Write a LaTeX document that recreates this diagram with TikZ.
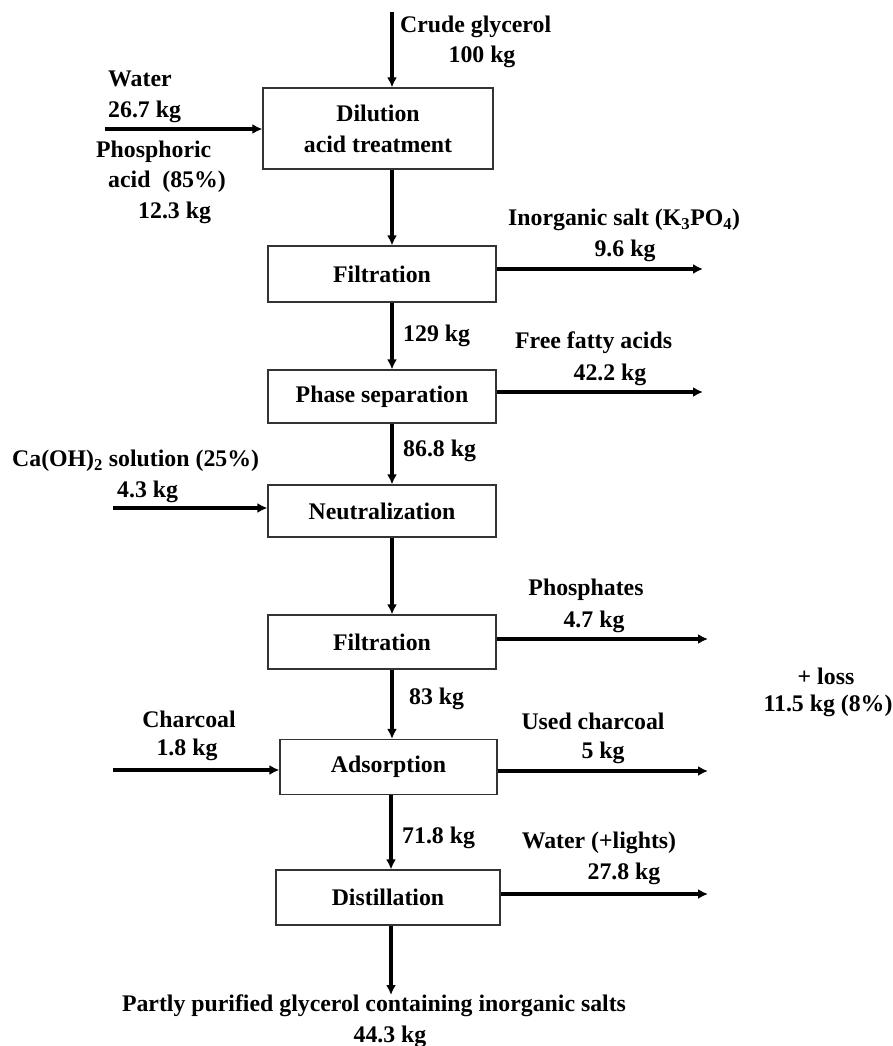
\documentclass[tikz,border=0pt]{standalone}
\usepackage{fontspec}
\setmainfont{Liberation Serif}
\usetikzlibrary{arrows.meta}

\tikzset{
  unit/.style={draw=black!80, line width=1.2pt, inner sep=0pt, align=center},
  lbl/.style={inner sep=0pt, anchor=center},
  lbll/.style={inner sep=0pt, anchor=west},
  flow/.style={line width=3.2pt, -{Latex[length=10pt,width=10pt]}}
}

\begin{document}
\begin{tikzpicture}[x=1pt, y=-1pt, font=\fontsize{23.8}{31}\selectfont\bfseries]
    \useasboundingbox (0,0) rectangle (893,1046);

    % process units
    \node[unit, minimum width=230, minimum height=81] (dil) at (378,128.5) {Dilution\\acid treatment};
    \node[unit, minimum width=228, minimum height=56] (filta) at (382,274) {Filtration};
    \node[unit, minimum width=228, minimum height=53] (phase) at (382,396.5) {Phase separation};
    \node[unit, minimum width=228, minimum height=52] (neut) at (382,511) {Neutralization};
    \node[unit, minimum width=228, minimum height=54] (filtb) at (382,642) {Filtration};
    \node[unit, minimum width=217, minimum height=55] (ads) at (388.5,767) {Adsorption};
    \node[unit, minimum width=224, minimum height=55] (dist) at (388,897.5) {Distillation};

    % free ends of the streams
    \coordinate (crudein) at (392,12);
    \coordinate (waterin) at (105,129);
    \coordinate (limein) at (113,508);
    \coordinate (charin) at (113,770);
    \coordinate (saltout) at (703,269);
    \coordinate (ffaout) at (703,392);
    \coordinate (phosout) at (708,639);
    \coordinate (usedout) at (708,771);
    \coordinate (lightout) at (708,894);
    \coordinate (prodout) at (391,995);

    % main line
    \draw[flow] (crudein) -- (crudein |- dil.north);
    \draw[flow] (crudein |- dil.south) -- (crudein |- filta.north);
    \draw[flow] (crudein |- filta.south) -- (crudein |- phase.north);
    \draw[flow] (crudein |- phase.south) -- (crudein |- neut.north);
    \draw[flow] (crudein |- neut.south) -- (crudein |- filtb.north);
    \draw[flow] (crudein |- filtb.south) -- (crudein |- ads.north);
    \draw[flow] (prodout |- ads.south) -- (prodout |- dist.north);
    \draw[flow] (prodout |- dist.south) -- (prodout);

    % feeds
    \draw[flow] (waterin) -- (waterin -| dil.west);
    \draw[flow] (limein) -- (limein -| neut.west);
    \draw[flow] (charin) -- (charin -| ads.west);

    % outlets
    \draw[flow] (saltout -| filta.east) -- (saltout);
    \draw[flow] (ffaout -| phase.east) -- (ffaout);
    \draw[flow] (phosout -| filtb.east) -- (phosout);
    \draw[flow] (usedout -| ads.east) -- (usedout);
    \draw[flow] (lightout -| dist.east) -- (lightout);

    % stream labels
    \node[lbll] (crude) at (400,27) {Crude glycerol};
    \node[lbl] (crudem) at (482,57) {100 kg};
    \node[lbll] (water) at (108,79) {Water};
    \node[lbll] (waterm) at (108,112) {26.7 kg};
    \node[lbll] (acid) at (96,152) {Phosphoric};
    \node[lbll] (acidb) at (108,182) {acid\enspace(85\%)};
    \node[lbll] (acidm) at (138,213) {12.3 kg};
    \node[lbll] (salt) at (508,220) {Inorganic salt (K\textsubscript{3}PO\textsubscript{4})};
    \node[lbl] (saltm) at (625,251) {9.6 kg};
    \node[lbll] (mfilta) at (403,336) {129 kg};
    \node[lbll] (ffa) at (515,343) {Free fatty acids};
    \node[lbl] (ffam) at (610,375) {42.2 kg};
    \node[lbll] (mphase) at (403,451) {86.8 kg};
    \node[lbll] (lime) at (12,461) {Ca(OH)\textsubscript{2} solution (25\%)};
    \node[lbll] (limem) at (117,492) {4.3 kg};
    \node[lbl] (phos) at (586,590) {Phosphates};
    \node[lbl] (phosm) at (594,622) {4.7 kg};
    \node[lbl] (loss) at (826,676) {+ loss};
    \node[lbl] (lossm) at (828,706) {11.5 kg (8\%)};
    \node[lbll] (mfiltb) at (409,699) {83 kg};
    \node[lbl] (char) at (189,719) {Charcoal};
    \node[lbl] (charm) at (187,750) {1.8 kg};
    \node[lbl] (used) at (593,721) {Used charcoal};
    \node[lbl] (usedm) at (603,753) {5 kg};
    \node[lbll] (mads) at (402,838) {71.8 kg};
    \node[lbl] (light) at (599,843) {Water (+lights)};
    \node[lbl] (lightm) at (624,874) {27.8 kg};
    \node[lbl] (prod) at (374,1006) {Partly purified glycerol containing inorganic salts};
    \node[lbl] (prodm) at (390,1037) {44.3 kg};
\end{tikzpicture}
\end{document}
